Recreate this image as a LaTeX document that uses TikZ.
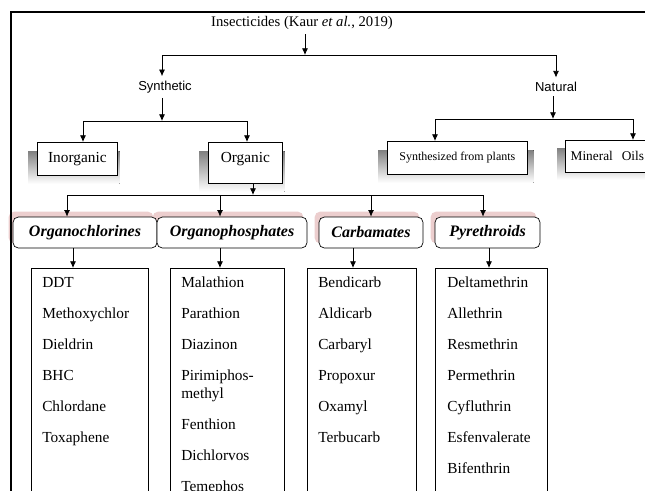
\documentclass[tikz,border=0pt]{standalone}
\usepackage{fontspec}
\setmainfont{Liberation Serif}
\setsansfont{Liberation Sans}
\usetikzlibrary{arrows.meta,calc,backgrounds}
\definecolor{shade}{RGB}{190,190,190}
\definecolor{glow}{RGB}{236,206,206}
\tikzset{
  arr/.style={-{Latex[length=5pt,width=4.5pt]},line width=0.6pt},
  fork/.style={{Latex[length=5pt,width=4.5pt]}-{Latex[length=5pt,width=4.5pt]},line width=0.6pt},
  kind/.style={font=\sffamily\fontsize{9.75}{11}\selectfont},
  plainbox/.style={draw,line width=0.5pt,fill=white,inner sep=0pt,anchor=north west},
  catbox/.style={draw,rounded corners=4pt,line width=0.5pt,fill=white,inner sep=0pt,
    minimum height=23.25pt,font=\bfseries\itshape\fontsize{12}{14}\selectfont},
  listbox/.style={draw,line width=0.5pt,inner sep=0pt,anchor=north west,minimum height=195pt},
  chem/.style={anchor=base west,inner sep=0pt,font=\fontsize{11.5}{13}\selectfont},
}
\begin{document}
\begin{tikzpicture}[x=0.75pt,y=-0.75pt]
\useasboundingbox (0,0) rectangle (645,490);
\clip (0,0) rectangle (645,490);

% frame
\draw[line width=0.9pt] (11,500) -- (11,12) -- (650,12);

% top level
\node[font=\fontsize{11}{13}\selectfont] (ins) at (302,23) {Insecticides (Kaur \textit{et al.}, 2019)};
\coordinate (j0) at (305,55);
\coordinate (jsyn) at (162,55);
\coordinate (jnat) at (556,55);
\node[kind] (syn) at (165,87) {Synthetic};
\node[kind] (nat) at (556,87) {Natural};
\draw[arr] (ins.south -| j0) -- (j0);
\draw[fork] (jsyn |- syn.north) -- (jsyn) -- (jnat) -- (jnat |- nat.north);

% synthetic branch
\node[plainbox,minimum width=60pt,text height=15pt,text depth=9.75pt,
  font=\fontsize{11.5}{13}\selectfont] (ino) at (37,142) {Inorganic};
\node[plainbox,minimum width=55.5pt,text height=15pt,text depth=15.75pt,
  font=\fontsize{11.5}{13}\selectfont] (org) at (208,142) {Organic};
\coordinate (jso) at (162,121);
\coordinate (jino) at (83,121);
\coordinate (jorg) at (247,121);
\draw[arr] (syn.south -| jso) -- (jso);
\draw[fork] (jino |- ino.north) -- (jino) -- (jorg) -- (jorg |- org.north);

% natural branch
\node[plainbox,minimum width=105pt,minimum height=24.75pt,
  font=\fontsize{9}{11}\selectfont] (sfp) at (387,141) {Synthesized from plants};
\node[plainbox,minimum height=24pt,inner xsep=4pt,text width=90pt,align=left,
  font=\fontsize{10}{12}\selectfont] (mol) at (565,140) {Mineral~~Oils};
\coordinate (jna) at (553,119);
\coordinate (jsfp) at (435,119);
\coordinate (jmol) at (633,119);
\draw[arr] (nat.south -| jna) -- (jna);
\draw[fork] (jsfp |- sfp.north) -- (jsfp) -- (jmol) -- (jmol |- mol.north);

% shadows
\begin{scope}[on background layer]
\fill[shade] ($(ino.north west)+(-9,9)$) rectangle ($(ino.south east)+(2,8)$);
\fill[shade] ($(org.north west)+(-9,9)$) rectangle ($(org.south east)+(2,8)$);
\fill[shade] ($(sfp.north west)+(-9,9)$) rectangle ($(sfp.south east)+(6,8)$);
\fill[shade] ($(mol.north west)+(-8,8)$) rectangle ($(mol.south east)+(2,7)$);
\end{scope}

% classes
\node[catbox,minimum width=108pt] (och) at (85,232.5) {Organochlorines};
\node[catbox,minimum width=112.5pt] (oph) at (232,232.5) {Organophosphates};
\node[catbox,minimum width=78pt] (cbm) at (371,232.5) {Carbamates};
\node[catbox,minimum width=78.75pt] (pyr) at (487.5,232.5) {Pyrethroids};
\begin{scope}[on background layer]
\fill[glow,rounded corners=4pt] ($(och.north west)+(-4,-5)$) rectangle ($(och.south east)+(-4,-5)$);
\fill[glow,rounded corners=4pt] ($(oph.north west)+(-4,-5)$) rectangle ($(oph.south east)+(-4,-5)$);
\fill[glow,rounded corners=4pt] ($(cbm.north west)+(-4,-5)$) rectangle ($(cbm.south east)+(-4,-5)$);
\fill[glow,rounded corners=4pt] ($(pyr.north west)+(-4,-5)$) rectangle ($(pyr.south east)+(-4,-5)$);
\end{scope}
\coordinate (jcl) at (253,195);
\coordinate (jch) at (67,195);
\coordinate (jph) at (220,195);
\coordinate (jcb) at (371,195);
\coordinate (jpy) at (483,195);
\draw[arr] (org.south -| jcl) -- (jcl);
\draw[fork] (jch |- och.north) -- (jch) -- (jpy) -- (jpy |- pyr.north);
\draw[arr] (jph) -- (jph |- oph.north);
\draw[arr] (jcb) -- (jcb |- cbm.north);

% lists
\node[listbox,minimum width=87.75pt] (lch) at (31,268) {};
\node[listbox,minimum width=85.5pt] (lph) at (170,268) {};
\node[listbox,minimum width=81.75pt] (lcb) at (307,268) {};
\node[listbox,minimum width=84pt] (lpy) at (435,268) {};
\coordinate (ach) at (73,268);
\coordinate (aph) at (220,268);
\coordinate (acb) at (353,268);
\coordinate (apy) at (489,268);
\draw[arr] (och.south -| ach) -- (ach);
\draw[arr] (oph.south -| aph) -- (aph);
\draw[arr] (cbm.south -| acb) -- (acb);
\draw[arr] (pyr.south -| apy) -- (apy);

\node[chem] (c1) at (42,287) {DDT};
\node[chem] (c2) at (42,318) {Methoxychlor};
\node[chem] (c3) at (42,349) {Dieldrin};
\node[chem] (c4) at (42,380) {BHC};
\node[chem] (c5) at (42,411) {Chlordane};
\node[chem] (c6) at (42,442) {Toxaphene};

\node[chem] (p1) at (181,287) {Malathion};
\node[chem] (p2) at (181,318) {Parathion};
\node[chem] (p3) at (181,349) {Diazinon};
\node[chem] (p4) at (181,380) {Pirimiphos-};
\node[chem] (p4b) at (181,398) {methyl};
\node[chem] (p5) at (181,429) {Fenthion};
\node[chem] (p6) at (181,460) {Dichlorvos};
\node[chem] (p7) at (181,491) {Temephos};

\node[chem] (b1) at (318,287) {Bendicarb};
\node[chem] (b2) at (318,318) {Aldicarb};
\node[chem] (b3) at (318,349) {Carbaryl};
\node[chem] (b4) at (318,380) {Propoxur};
\node[chem] (b5) at (318,411) {Oxamyl};
\node[chem] (b6) at (318,442) {Terbucarb};

\node[chem] (y1) at (447,287) {Deltamethrin};
\node[chem] (y2) at (447,318) {Allethrin};
\node[chem] (y3) at (447,349) {Resmethrin};
\node[chem] (y4) at (447,380) {Permethrin};
\node[chem] (y5) at (447,411) {Cyfluthrin};
\node[chem] (y6) at (447,442) {Esfenvalerate};
\node[chem] (y7) at (447,473) {Bifenthrin};
\end{tikzpicture}
\end{document}
